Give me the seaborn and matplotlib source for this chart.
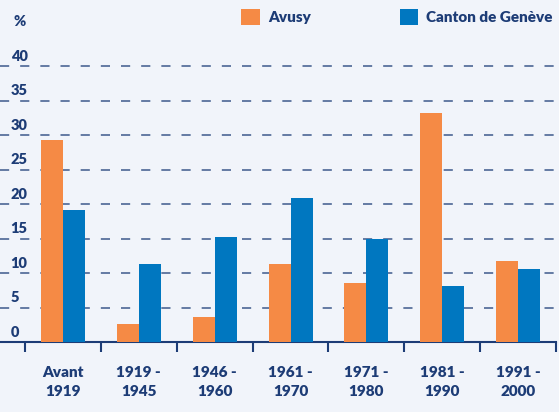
import matplotlib
matplotlib.use("Agg")
import matplotlib.pyplot as plt
from matplotlib.patches import Patch
import seaborn as sns
import pandas as pd

periods = ["Avant\n1919", "1919 -\n1945", "1946 -\n1960", "1961 -\n1970",
           "1971 -\n1980", "1981 -\n1990", "1991 -\n2000"]
avusy = [29.3, 2.6, 3.6, 11.3, 8.6, 33.2, 11.7]
geneve = [19.1, 11.3, 15.2, 20.9, 14.9, 8.1, 10.6]
series_names = ["Avusy", "Canton de Genève"]
yticks = [0, 5, 10, 15, 20, 25, 30, 35, 40]

orange = "#f58a45"
blue = "#0077c0"
navy = "#1d3c76"
bg = "#f1f4fa"
WT = "heavy"

df = pd.DataFrame({
    "period": periods * 2,
    "value": avusy + geneve,
    "series": [series_names[0]] * len(periods) + [series_names[1]] * len(periods),
})

sns.set_theme(style="white")
plt.rcParams["font.family"] = ["Lato", "DejaVu Sans"]

W, H = 559, 412
fig = plt.figure(figsize=(W / 100, H / 100), dpi=100)
fig.patch.set_facecolor(bg)
ax = fig.add_axes([0, 70 / H, 556 / W, 1 - 70 / H])
ax.set_facecolor(bg)

sns.barplot(data=df, x="period", y="value", hue="series",
            palette=[orange, blue], width=0.58, saturation=1,
            ax=ax, legend=False, errorbar=None, linewidth=0, zorder=3)

ax.set_xlim(-0.83, 6.5)
ax.set_ylim(0, 342 / 6.9)

for v in yticks:
    if v > 0:
        ax.axhline(v, color="#3d5a8c", lw=1.1, ls=(0, (6, 7.2)), zorder=1)
    ax.text(-0.69, v + 0.45, str(v), color=navy, fontsize=10.5,
            fontweight=WT, ha="left", va="bottom", zorder=4)
ax.text(-0.57, 46.4, "%", color=navy, fontsize=10.5, fontweight=WT,
        ha="center", va="center")

for s in ["top", "right", "left"]:
    ax.spines[s].set_visible(False)
ax.spines["bottom"].set_color(navy)
ax.spines["bottom"].set_linewidth(1.5)
ax.set_yticks([])
ax.set_xlabel("")
ax.set_ylabel("")
ax.set_xticks(range(len(periods)))
ax.set_xticklabels(periods, color=navy, fontsize=11, fontweight=WT,
                   linespacing=1.55)
ax.tick_params(axis="x", which="major", length=0, pad=17)
ax.set_xticks([i - 0.5 for i in range(len(periods) + 1)], minor=True)
ax.tick_params(axis="x", which="minor", length=7, width=1.5, color=navy,
               direction="out", bottom=True)

handles = [Patch(facecolor=orange, edgecolor="none"),
           Patch(facecolor=blue, edgecolor="none")]
leg = fig.legend(handles, series_names, loc="upper right",
                 bbox_to_anchor=(1.0, 0.993), borderaxespad=0.0,
                 borderpad=0.4, ncol=2,
                 frameon=False, handlelength=1.2, handleheight=1.2,
                 handletextpad=0.55, columnspacing=5.8,
                 prop={"weight": WT, "size": 11})
for t in leg.get_texts():
    t.set_color(navy)

fig.savefig("out.png", dpi=100, facecolor=bg)
